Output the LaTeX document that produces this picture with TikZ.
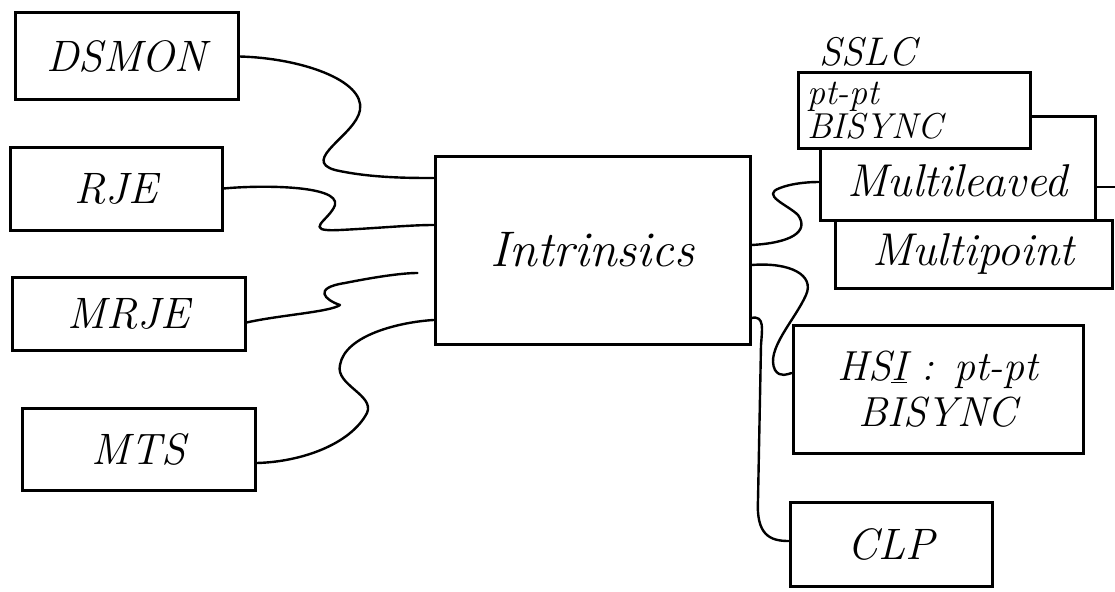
\documentclass[tikz,border=0pt]{standalone}
\usepackage{fontspec}
\usetikzlibrary{calc}

\tikzset{
  box/.style={draw, line width=3pt, fill=white, rectangle, inner sep=2pt,
    font=\itshape\fontsize{44}{48}\selectfont},
  wire/.style={line width=2.4pt, line cap=round, line join=round},
  smalltext/.style={font=\itshape\fontsize{36}{32}\selectfont},
  bigtext/.style={font=\itshape\fontsize{46}{50}\selectfont},
}

\begin{document}
\begin{tikzpicture}[x=1pt, y=-1pt]
  \useasboundingbox (0,0) rectangle (1115,591);
  \fill[white] (0,0) rectangle (1115,591);

  % left-hand subsystems
  \node[box, minimum width=223pt, minimum height=87pt] (dsmon) at (126.5,56.5) {DSMON};
  \node[box, minimum width=212pt, minimum height=83pt] (rje)   at (116,188.5) {RJE};
  \node[box, minimum width=233pt, minimum height=73pt] (mrje)  at (128.5,313.5) {MRJE};
  \node[box, minimum width=233pt, minimum height=82pt] (mts)   at (138.5,449) {MTS};

  % central block
  \node[box, minimum width=315pt, minimum height=188pt,
        font=\itshape\fontsize{50}{54}\selectfont] (intr) at (592.5,250) {Intrinsics};

  % SSLC stack (back to front)
  \node[font=\itshape\fontsize{40}{44}\selectfont] (sslc) at (868,52) {SSLC};
  \node[box, bigtext, minimum width=277pt, minimum height=68pt]
    (mpoint) at (973.5,254) {Multipoint};
  \node[box, minimum width=275pt, minimum height=103pt,
        label={[bigtext, yshift=-12pt]center:Multileaved}] (mleav) at (957.5,168.5) {};
  \node[box, minimum width=232pt, minimum height=75pt, text width=214pt, align=left, smalltext]
    (ptpt) at (914,110.5) {pt-pt\\BISYNC};

  % other line handlers
  \node[box, minimum width=290pt, minimum height=128pt, align=center,
        font=\itshape\fontsize{42}{46}\selectfont] (hsi) at (938,389)
        {HS\underline{I} : pt-pt\\BISYNC};
  \node[box, minimum width=202pt, minimum height=84pt] (clp) at (891,544) {CLP};

  % free end of the link leaving Multileaved
  \coordinate (mlout) at ([xshift=20pt, yshift=-18.5pt]mleav.east);

  % connectors into Intrinsics
  \draw[wire] (dsmon.east)
    .. controls (300,58) and (365,80) .. (360,110)
    .. controls (356,135) and (300,160) .. (335,170)
    .. controls (370,178) and (410,178) .. ([yshift=72pt]intr.west);
  \draw[wire] (rje.east)
    .. controls (260,185) and (340,185) .. (335,205)
    .. controls (330,220) and (300,232) .. (340,230)
    .. controls (380,228) and (410,225) .. ([yshift=25pt]intr.west);
  \draw[wire, shorten >=16pt] ([yshift=-9pt]mrje.east)
    .. controls (280,315) and (330,312) .. (340,305)
    .. controls (325,300) and (312,288) .. (345,283)
    .. controls (370,278) and (400,273) .. ([yshift=-23pt]intr.west);
  \draw[wire] ([yshift=-14pt]mts.east)
    .. controls (300,462) and (350,445) .. (367,413)
    .. controls (375,395) and (335,385) .. (340,365)
    .. controls (345,335) and (400,322) .. ([yshift=-70pt]intr.west);

  % connectors out of Intrinsics
  \draw[wire] ([yshift=5pt]intr.east)
    .. controls (790,243) and (810,232) .. (798,215)
    .. controls (788,205) and (760,195) .. (780,188)
    .. controls (790,184) and (805,182) .. ([yshift=-13.5pt]mleav.west);
  \draw[wire] ([yshift=-15pt]intr.east)
    .. controls (790,262) and (815,275) .. (806,295)
    .. controls (795,320) and (765,350) .. (775,370)
    .. controls (780,378) and (788,374) .. ([yshift=16pt]hsi.west);
  \draw[wire] ([yshift=-68pt]intr.east)
    .. controls (765,315) and (762,330) .. (761,345)
    -- (758,500)
    .. controls (756,535) and (770,541) .. ([yshift=3pt]clp.west);

  \draw[wire] ([yshift=-18.5pt]mleav.east) -- (mlout);
\end{tikzpicture}
\end{document}
